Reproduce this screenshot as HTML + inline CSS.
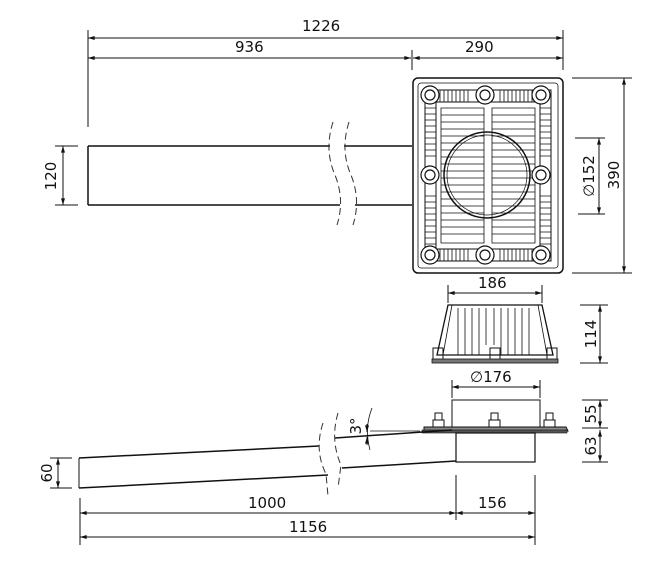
<!DOCTYPE html>
<html><head><meta charset="utf-8"><style>
html,body{margin:0;padding:0;background:#fff;width:660px;height:562px;overflow:hidden}
text{font-family:"DejaVu Sans","Liberation Sans",sans-serif;font-size:15px;fill:#111}
</style></head><body>
<svg width="660" height="562" viewBox="0 0 660 562" xmlns="http://www.w3.org/2000/svg">
<defs>
<marker id="a" viewBox="0 0 10 6" refX="10" refY="3" markerWidth="8" markerHeight="4" orient="auto-start-reverse"><path d="M0,0L10,3L0,6z" fill="#111"/></marker>
</defs>
<g stroke="#111" stroke-width="1" fill="none">
<!-- top dims -->
<line x1="88" y1="30" x2="88" y2="127"/>
<line x1="412" y1="50" x2="412" y2="70"/>
<line x1="563" y1="30" x2="563" y2="70"/>
<line x1="88" y1="38" x2="563" y2="38" marker-start="url(#a)" marker-end="url(#a)"/>
<line x1="88" y1="58" x2="411" y2="58" marker-start="url(#a)" marker-end="url(#a)"/>
<line x1="413" y1="58" x2="563" y2="58" marker-start="url(#a)" marker-end="url(#a)"/>
<!-- top pipe -->
<g stroke-width="1.5">
<line x1="88" y1="146" x2="88" y2="205"/>
<line x1="88" y1="146" x2="330" y2="146"/><line x1="344" y1="146" x2="412" y2="146"/>
<line x1="88" y1="205" x2="340" y2="205"/><line x1="355" y1="205" x2="412" y2="205"/>
</g>
<path d="M333,122 Q324,150 335,175 Q345,200 337,225" stroke-dasharray="7,4" stroke="#333"/>
<path d="M349,122 Q340,150 351,175 Q361,200 353,225" stroke-dasharray="7,4" stroke="#333"/>
<line x1="55" y1="146" x2="78" y2="146"/><line x1="55" y1="205" x2="78" y2="205"/>
<line x1="63" y1="146" x2="63" y2="205" marker-start="url(#a)" marker-end="url(#a)"/>
<!-- grate -->
<rect x="413" y="78" width="150" height="195" rx="5" stroke-width="1.5"/>
<rect x="418" y="83" width="140" height="185" rx="3" stroke-width="0.8"/>
<rect x="425" y="90" width="126" height="171" stroke-width="1"/>
<rect x="436" y="102" width="104" height="147" stroke-width="1"/>
<g stroke-width="0.8">
<path d="M428,90V102M432,90V102M436,90V102M440,90V102M444,90V102M448,90V102M452,90V102M456,90V102M460,90V102M464,90V102M468,90V102M500,90V102M504,90V102M508,90V102M512,90V102M516,90V102M520,90V102M524,90V102M528,90V102M532,90V102M536,90V102M540,90V102M544,90V102"/>
<path d="M428,249V261M432,249V261M436,249V261M440,249V261M444,249V261M448,249V261M452,249V261M456,249V261M460,249V261M464,249V261M468,249V261M500,249V261M504,249V261M508,249V261M512,249V261M516,249V261M520,249V261M524,249V261M528,249V261M532,249V261M536,249V261M540,249V261M544,249V261"/>
<path d="M425,108H436M425,114H436M425,120H436M425,126H436M425,132H436M425,138H436M425,144H436M425,150H436M425,156H436M425,196H436M425,202H436M425,208H436M425,214H436M425,220H436M425,226H436M425,232H436M425,238H436M425,244H436"/>
<path d="M540,108H551M540,114H551M540,120H551M540,126H551M540,132H551M540,138H551M540,144H551M540,150H551M540,156H551M540,196H551M540,202H551M540,208H551M540,214H551M540,220H551M540,226H551M540,232H551M540,238H551M540,244H551"/>
</g>
<g stroke-width="0.8">
<path d="M441,108H484V243H441Z M492,108H535V243H492Z"/>
<path d="M441,115H484M441,122H484M441,129H484M441,136H484M441,143H484M441,150H484M441,157H484M441,164H484M441,171H484M441,178H484M441,185H484M441,192H484M441,199H484M441,206H484M441,213H484M441,220H484M441,227H484M441,234H484"/>
<path d="M492,115H535M492,122H535M492,129H535M492,136H535M492,143H535M492,150H535M492,157H535M492,164H535M492,171H535M492,178H535M492,185H535M492,192H535M492,199H535M492,206H535M492,213H535M492,220H535M492,227H535M492,234H535"/>
</g>
<circle cx="487" cy="175" r="43" stroke-width="1.5"/>
<circle cx="487" cy="175" r="40" stroke-width="0.7"/>
<g stroke-width="1.2" fill="#fff">
<circle cx="430" cy="95" r="9"/><circle cx="430" cy="95" r="5"/>
<circle cx="485" cy="95" r="9"/><circle cx="485" cy="95" r="5"/>
<circle cx="541" cy="95" r="9"/><circle cx="541" cy="95" r="5"/>
<circle cx="430" cy="175" r="9"/><circle cx="430" cy="175" r="5"/>
<circle cx="541" cy="175" r="9"/><circle cx="541" cy="175" r="5"/>
<circle cx="430" cy="255" r="9"/><circle cx="430" cy="255" r="5"/>
<circle cx="485" cy="255" r="9"/><circle cx="485" cy="255" r="5"/>
<circle cx="541" cy="255" r="9"/><circle cx="541" cy="255" r="5"/>
</g>
<!-- right dims -->
<line x1="572" y1="78" x2="632" y2="78"/><line x1="572" y1="273" x2="632" y2="273"/>
<line x1="624" y1="78" x2="624" y2="273" marker-start="url(#a)" marker-end="url(#a)"/>
<line x1="575" y1="138" x2="605" y2="138"/><line x1="578" y1="214" x2="605" y2="214"/>
<line x1="599" y1="138" x2="599" y2="214" marker-start="url(#a)" marker-end="url(#a)"/>
<!-- side of grate -->
<line x1="448" y1="285" x2="448" y2="303"/><line x1="542" y1="285" x2="542" y2="303"/>
<line x1="448" y1="293" x2="542" y2="293" marker-start="url(#a)" marker-end="url(#a)"/>
<path d="M448,305H542L553,355H437Z" stroke-width="1.3"/>
<path d="M452,305L443,355M538,305L547,355M458,308V355M465,308V355M472,308V355M479,308V355M486,308V345M494,308V345M501,308V355M508,308V355M515,308V355M522,308V355M529,308V355" stroke-width="0.8"/>
<rect x="433" y="348" width="10" height="12" stroke-width="1"/>
<rect x="490" y="348" width="10" height="12" stroke-width="1"/>
<rect x="547" y="348" width="10" height="12" stroke-width="1"/>
<rect x="432" y="359" width="126" height="4" fill="#777" stroke-width="0.8"/>
<line x1="580" y1="305" x2="608" y2="305"/><line x1="580" y1="363" x2="608" y2="363"/>
<line x1="600" y1="305" x2="600" y2="363" marker-start="url(#a)" marker-end="url(#a)"/>
<!-- 176 -->
<line x1="452" y1="380" x2="452" y2="398"/><line x1="540" y1="380" x2="540" y2="398"/>
<line x1="452" y1="387" x2="540" y2="387" marker-start="url(#a)" marker-end="url(#a)"/>
<!-- bottom body -->
<rect x="452" y="400" width="88" height="27" stroke-width="1"/>
<path d="M424,427H566L568,431H424Z" fill="#888" stroke-width="1"/>
<rect x="422" y="430" width="145" height="3" fill="#555" stroke-width="0.6"/>
<rect x="456" y="433" width="79" height="29" stroke-width="1.2"/>
<g stroke-width="1" fill="#fff">
<rect x="435" y="413" width="7" height="8"/><rect x="433" y="420" width="11" height="7"/>
<rect x="491" y="413" width="7" height="8"/><rect x="489" y="420" width="11" height="7"/>
<rect x="546" y="413" width="7" height="8"/><rect x="544" y="420" width="11" height="7"/>
</g>
<line x1="582" y1="400" x2="608" y2="400"/><line x1="582" y1="428" x2="608" y2="428"/><line x1="582" y1="462" x2="608" y2="462"/>
<line x1="600" y1="400" x2="600" y2="428" marker-start="url(#a)" marker-end="url(#a)"/>
<line x1="600" y1="430" x2="600" y2="462" marker-start="url(#a)" marker-end="url(#a)"/>
<!-- sloped pipe -->
<g stroke-width="1.5">
<line x1="79" y1="458" x2="319" y2="446"/>
<line x1="79" y1="488" x2="328" y2="475"/>
<line x1="79" y1="458" x2="79" y2="488" stroke-width="1"/>
<line x1="335" y1="438" x2="452" y2="430"/>
<line x1="342" y1="468" x2="456" y2="461"/>
</g>
<path d="M323,423 Q314,450 326,474 L328,496" stroke-dasharray="7,4" stroke="#333"/>
<path d="M338,413 Q330,440 341,465 L338,488" stroke-dasharray="7,4" stroke="#333"/>
<line x1="370" y1="431" x2="420" y2="431" stroke-width="0.8"/>
<path d="M372,408 Q364,428 370,450" stroke-width="0.8"/>
<line x1="367" y1="424" x2="367" y2="432" marker-end="url(#a)"/>
<line x1="367" y1="445" x2="367" y2="437" marker-end="url(#a)"/>
<line x1="50" y1="458" x2="72" y2="458"/><line x1="50" y1="488" x2="72" y2="488"/>
<line x1="58" y1="458" x2="58" y2="488" marker-start="url(#a)" marker-end="url(#a)"/>
<!-- bottom dims -->
<line x1="80" y1="498" x2="80" y2="545"/>
<line x1="456" y1="475" x2="456" y2="520"/>
<line x1="535" y1="475" x2="535" y2="545"/>
<line x1="80" y1="513" x2="456" y2="513" marker-start="url(#a)" marker-end="url(#a)"/>
<line x1="456" y1="513" x2="535" y2="513" marker-start="url(#a)" marker-end="url(#a)"/>
<line x1="80" y1="537" x2="535" y2="537" marker-start="url(#a)" marker-end="url(#a)"/>
</g>
<text x="302" y="31">1226</text>
<text x="235" y="52">936</text>
<text x="465" y="52">290</text>
<text transform="translate(56,176) rotate(-90)" text-anchor="middle">120</text>
<text transform="translate(619,175) rotate(-90)" text-anchor="middle">390</text>
<text transform="translate(594,176) rotate(-90)" text-anchor="middle">∅152</text>
<text x="478" y="288">186</text>
<text transform="translate(596,334) rotate(-90)" text-anchor="middle">114</text>
<text x="470" y="382">∅176</text>
<text transform="translate(596,414) rotate(-90)" text-anchor="middle">55</text>
<text transform="translate(596,446) rotate(-90)" text-anchor="middle">63</text>
<text transform="translate(361,426) rotate(-90)" text-anchor="middle">3°</text>
<text transform="translate(52,473) rotate(-90)" text-anchor="middle">60</text>
<text x="248" y="508">1000</text>
<text x="478" y="508">156</text>
<text x="289" y="532">1156</text>
</svg>
</body></html>
